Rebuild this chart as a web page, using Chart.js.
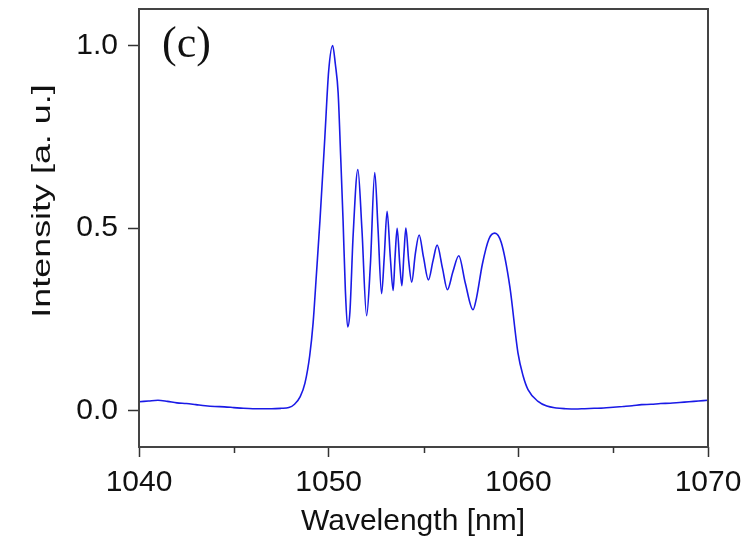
<!DOCTYPE html>
<html>
<head>
<meta charset="utf-8">
<script src="https://cdn.jsdelivr.net/npm/chart.js@4/dist/chart.umd.min.js"></script>
<style>
  html, body { margin: 0; padding: 0; background: #ffffff; }
  #c { display: block; }
</style>
</head>
<body>
<canvas id="c" width="751" height="539"></canvas>
<script>
// ---- data ----
const wavelengths = [
  1040.0, 1040.5, 1041.0, 1041.5, 1042.0, 1042.5, 1043.0, 1043.5, 1044.0, 1044.5,
  1045.0, 1045.5, 1046.0, 1046.5, 1047.0, 1047.5, 1047.9, 1048.2, 1048.5, 1048.75,
  1049.0, 1049.18, 1049.35, 1049.54, 1049.8, 1050.0, 1050.21, 1050.35, 1050.5, 1050.63,
  1050.76, 1050.88, 1051.0, 1051.12, 1051.29, 1051.54, 1051.75, 1052.0, 1052.2, 1052.43,
  1052.6, 1052.79, 1052.93, 1053.08, 1053.25, 1053.4, 1053.5, 1053.61, 1053.75, 1053.86,
  1053.97, 1054.07, 1054.22, 1054.38, 1054.57, 1054.77, 1055.0, 1055.26, 1055.5, 1055.72,
  1056.0, 1056.26, 1056.55, 1056.86, 1057.2, 1057.61, 1057.8, 1058.1, 1058.45, 1058.76,
  1059.1, 1059.55, 1059.98, 1060.25, 1060.51, 1061.04, 1061.5, 1062.0, 1062.5, 1063.0,
  1063.5, 1064.0, 1064.5, 1065.0, 1065.5, 1066.0, 1066.5, 1067.0, 1067.5, 1068.0,
  1068.5, 1069.0, 1069.5, 1070.0
];
const intensity = [
  0.024, 0.026, 0.028, 0.025, 0.021, 0.019, 0.016, 0.013, 0.011, 0.010,
  0.008, 0.006, 0.005, 0.005, 0.005, 0.006, 0.008, 0.017, 0.038, 0.075,
  0.150, 0.240, 0.370, 0.520, 0.750, 0.930, 1.000, 0.950, 0.870, 0.700,
  0.520, 0.330, 0.229, 0.270, 0.480, 0.660, 0.500, 0.260, 0.400, 0.652,
  0.500, 0.320, 0.420, 0.546, 0.420, 0.329, 0.420, 0.499, 0.400, 0.342,
  0.430, 0.500, 0.410, 0.352, 0.430, 0.481, 0.420, 0.358, 0.410, 0.453,
  0.390, 0.331, 0.380, 0.424, 0.350, 0.276, 0.310, 0.400, 0.470, 0.486,
  0.460, 0.340, 0.158, 0.095, 0.057, 0.025, 0.012, 0.007, 0.005, 0.004,
  0.005, 0.006, 0.007, 0.009, 0.011, 0.013, 0.016, 0.017, 0.019, 0.020,
  0.022, 0.024, 0.026, 0.028
];
const xTicks = [1040, 1050, 1060, 1070];
const xMinorTicks = [1045, 1055, 1065];
const yTicks = [0.0, 0.5, 1.0];
const xTitle = "Wavelength [nm]";
const yTitle = "Intensity [a. u.]";
const panelLabel = "(c)";

const points = wavelengths.map((w, i) => ({ x: w, y: intensity[i] }));

const decor = {
  id: 'decor',
  afterDraw(chart) {
    const ctx = chart.ctx;
    const a = chart.chartArea;
    const xs = chart.scales.x;
    ctx.save();
    // frame
    ctx.strokeStyle = '#444';
    ctx.lineWidth = 2;
    ctx.strokeRect(a.left, a.top, a.right - a.left, a.bottom - a.top);
    // minor x ticks
    ctx.lineWidth = 1.5;
    ctx.strokeStyle = '#333';
    xMinorTicks.forEach(v => {
      const px = Math.round(xs.getPixelForValue(v)) + 0.5;
      ctx.beginPath();
      ctx.moveTo(px, a.bottom);
      ctx.lineTo(px, a.bottom + 6);
      ctx.stroke();
    });
    // x title
    ctx.fillStyle = '#111';
    ctx.font = '30px "Liberation Sans", Arial, sans-serif';
    ctx.textAlign = 'center';
    ctx.textBaseline = 'alphabetic';
    ctx.fillText(xTitle, 413, 530);
    // y title (rotated)
    ctx.save();
    ctx.translate(50, 201);
    ctx.rotate(-Math.PI / 2);
    ctx.scale(1.38, 1);
    ctx.font = '26px "Liberation Sans", Arial, sans-serif';
    ctx.fillText(yTitle, 0, 0);
    ctx.restore();
    // panel label
    ctx.textAlign = 'left';
    ctx.font = '44px "Liberation Serif", "Times New Roman", serif';
    ctx.fillText(panelLabel, 162, 57);
    ctx.restore();
  }
};

new Chart(document.getElementById('c'), {
  type: 'line',
  data: {
    datasets: [{
      data: points,
      borderColor: '#1a1ae6',
      borderWidth: 1.6,
      pointRadius: 0,
      fill: false,
      cubicInterpolationMode: 'monotone'
    }]
  },
  options: {
    responsive: false,
    animation: false,
    layout: { padding: { left: 0, right: 43, top: 9, bottom: 0 } },
    plugins: { legend: { display: false }, tooltip: { enabled: false } },
    scales: {
      x: {
        type: 'linear',
        min: 1040, max: 1070,
        afterBuildTicks: s => { s.ticks = xTicks.map(v => ({ value: v })); },
        afterFit: s => { s.height = 92; s.paddingLeft = 0; s.paddingRight = 0; },
        grid: { drawOnChartArea: false, drawTicks: true, tickLength: 10, tickColor: '#333', tickWidth: 1.5 },
        border: { display: false },
        ticks: {
          color: '#111',
          font: { family: '"Liberation Sans", Arial, sans-serif', size: 30 },
          padding: 8,
          maxRotation: 0,
          autoSkip: false,
          callback: v => String(v)
        }
      },
      y: {
        type: 'linear',
        min: -0.1, max: 1.1,
        afterBuildTicks: s => { s.ticks = yTicks.map(v => ({ value: v })); },
        afterFit: s => { s.width = 139; s.paddingTop = 0; s.paddingBottom = 0; },
        grid: { drawOnChartArea: false, drawTicks: true, tickLength: 11, tickColor: '#333', tickWidth: 1.5 },
        border: { display: false },
        ticks: {
          color: '#111',
          font: { family: '"Liberation Sans", Arial, sans-serif', size: 30 },
          padding: 10,
          autoSkip: false,
          callback: v => Number(v).toFixed(1)
        }
      }
    }
  },
  plugins: [decor]
});
</script>
</body>
</html>
